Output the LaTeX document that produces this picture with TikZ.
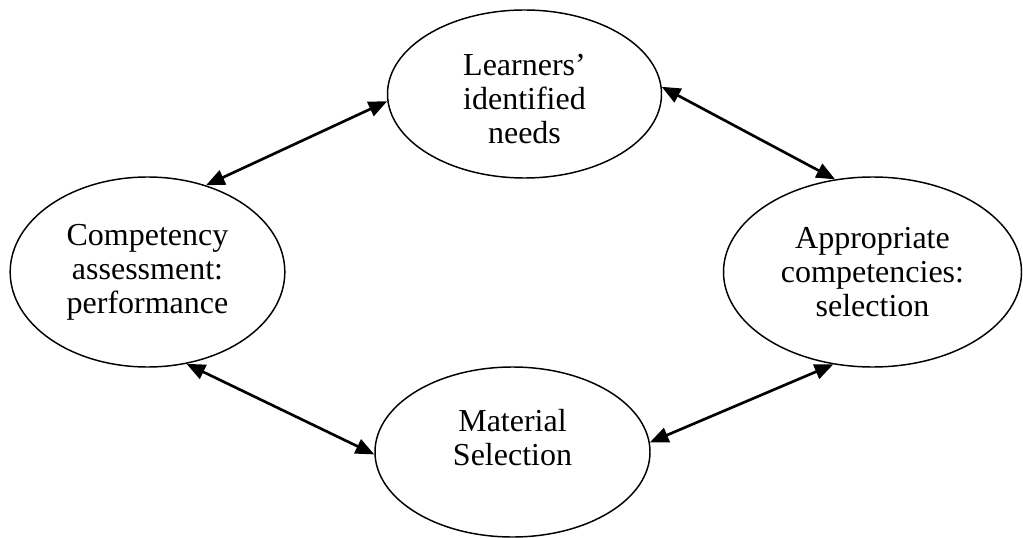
\documentclass[tikz,border=0pt]{standalone}
\usepackage{fontspec}
\setmainfont{Liberation Serif}
\usetikzlibrary{shapes.geometric,arrows.meta}

\tikzset{every picture/.style={line width=0.75pt}}
\tikzset{bubble/.style={draw,ellipse,inner sep=0pt,align=center,line width=1.1pt,
    font=\fontsize{24}{25.5}\selectfont},
  bubbletext/.style={inner sep=0pt,align=center,font=\fontsize{24}{25.5}\selectfont},
  link/.style={{Triangle[length=14pt,width=11.5pt]}-{Triangle[length=14pt,width=11.5pt]},line width=2pt}}

\begin{document}
\begin{tikzpicture}[x=0.75pt,y=0.75pt,yscale=-1,xscale=1]
\useasboundingbox (0,0) rectangle (1023,538);

%Shape: Ellipse [needs]
\node [bubble,minimum width=205.5pt,minimum height=126pt] (needs) at (524.5,94) {};
% Text Node
\node [bubbletext] (needstext) at (524.5,99) {Learners'\\identified\\needs};
%Shape: Ellipse [assess]
\node [bubble,minimum width=206pt,minimum height=142.5pt] (assess) at (147.5,272) {Competency\\assessment:\\performance};
%Shape: Ellipse [select]
\node [bubble,minimum width=223.5pt,minimum height=142.5pt] (select) at (872.5,272) {Appropriate\\competencies:\\selection};
%Shape: Ellipse [material]
\node [bubble,minimum width=206.25pt,minimum height=127.5pt] (material) at (512.5,452) {};
% Text Node
\node [bubbletext] (materialtext) at (512.5,438) {Material\\Selection};

%Straight Lines
\draw [link] (assess.56) -- (needs.183.3);
%Straight Lines
\draw [link] (needs.3) -- (select.112.6);
%Straight Lines
\draw [link] (assess.293.3) -- (material.181.4);
%Straight Lines
\draw [link] (material.4.6) -- (select.247.2);

\end{tikzpicture}
\end{document}
